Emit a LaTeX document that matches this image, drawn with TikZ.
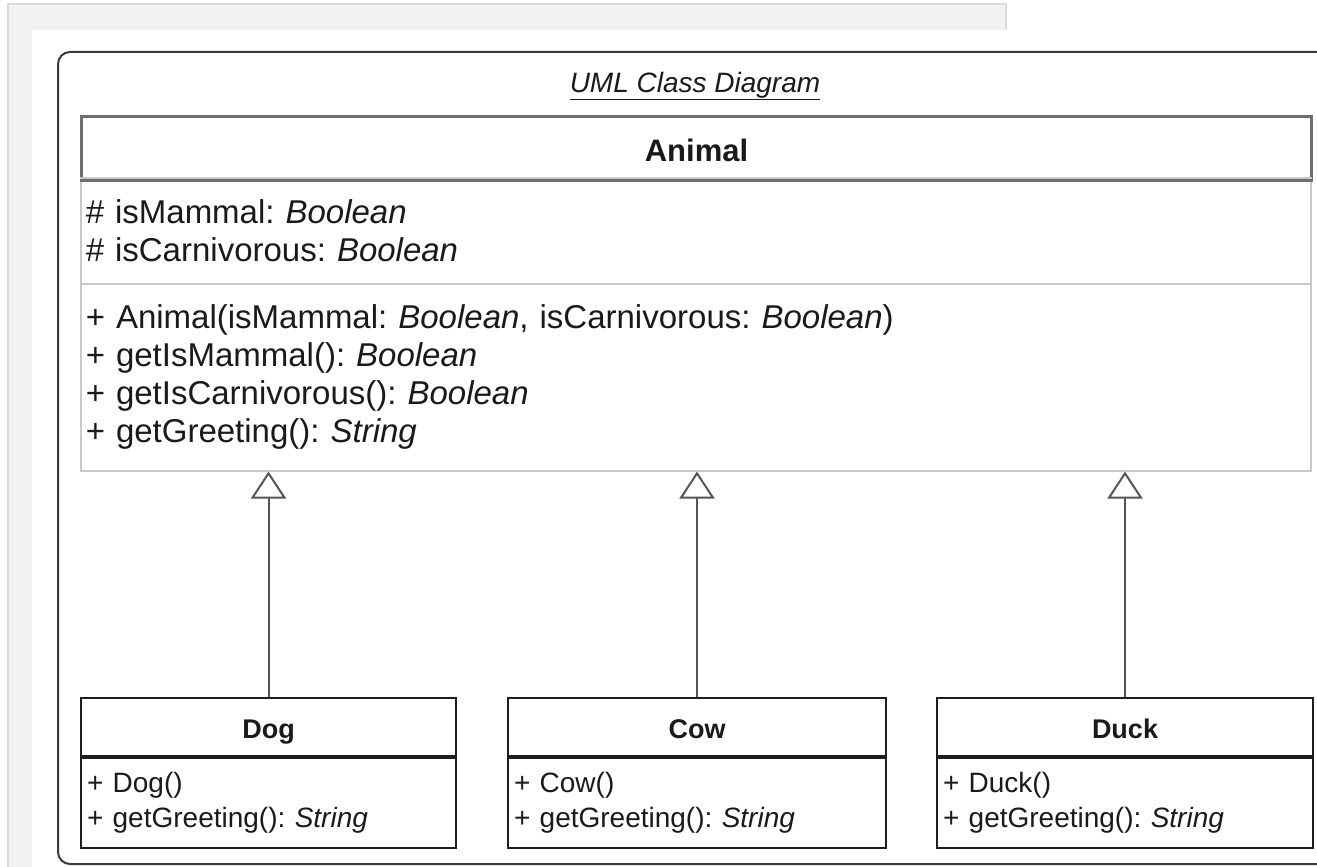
\documentclass[tikz,border=0pt]{standalone}
\usepackage{fontspec}
\setmainfont{Liberation Sans}
\usetikzlibrary{arrows.meta}
\frenchspacing
\definecolor{panelgrey}{HTML}{F2F2F2}
\definecolor{panelline}{HTML}{DADADA}
\definecolor{framecol}{HTML}{3A3A3A}
\definecolor{hdrline}{HTML}{6E6E6E}
\definecolor{bodyline}{HTML}{C8C8C8}
\definecolor{boxline}{HTML}{1E1E1E}
\definecolor{linkcol}{HTML}{555555}
\definecolor{textcol}{HTML}{1A1A1A}
\tikzset{
  animhdr/.style={draw=hdrline, line width=3pt, fill=white, inner sep=0pt,
    text height=28pt, text depth=0pt,
    font=\fontsize{31}{36}\selectfont\bfseries, text=textcol},
  animbody/.style={draw=bodyline, line width=1.5pt, fill=white, inner xsep=5pt, inner ysep=0pt,
    align=left, font=\fontsize{33}{38}\selectfont\frenchspacing, text=textcol},
  clshdr/.style={draw=boxline, line width=2pt, fill=white, inner sep=0pt,
    text height=23.5pt, text depth=0pt,
    minimum height=58pt, font=\fontsize{27}{32}\selectfont\bfseries, text=textcol},
  clsbody/.style={draw=boxline, line width=2pt, fill=white, inner xsep=6pt, inner ysep=0pt,
    minimum height=90pt, align=left, font=\fontsize{28}{35}\selectfont\frenchspacing, text=textcol},
  titletxt/.style={inner sep=0pt, font=\fontsize{28}{32}\selectfont, text=textcol},
  inherit/.style={draw=linkcol, line width=2pt,
    -{Triangle[open, length=27pt, width=35pt, line width=2pt, fill=white]}},
}
\begin{document}
\begin{tikzpicture}[x=1pt, y=-1pt]
\useasboundingbox (0,0) rectangle (1317,867);
\clip (0,0) rectangle (1317,867);
\fill[white] (0,0) rectangle (1317,867);
% page panel
\draw[panelline, fill=panelgrey, line width=1.5pt] (8,4) rectangle (1006,920);
\fill[white] (32,30) rectangle (1340,920);
% frame
\draw[framecol, line width=2pt, rounded corners=12pt] (58,52) rectangle (1345,864);
\node[titletxt] (title) at (695,86) {\underline{\textit{UML Class Diagram}}};
% Animal
\node[animhdr, minimum width=1230pt, minimum height=62pt, anchor=north west] (animh) at (80,115) {Animal};
\node[animbody, text width=1220pt, minimum height=106pt, anchor=north west] (anima) at (80,177)
  {\# isMammal: \textit{Boolean}\\\# isCarnivorous: \textit{Boolean}};
\node[animbody, text width=1220pt, minimum height=187pt, anchor=north west] (animm) at (80,283)
  {+ Animal(isMammal: \textit{Boolean}, isCarnivorous: \textit{Boolean})\\
   + getIsMammal(): \textit{Boolean}\\
   + getIsCarnivorous(): \textit{Boolean}\\
   + getGreeting(): \textit{String}};
\draw[hdrline, line width=3pt] (animh.south west) -- (animh.south east);
% Dog
\node[clshdr, minimum width=375pt, anchor=north west] (dogh) at (80,697) {Dog};
\node[clsbody, text width=363pt, anchor=north west] (dogb) at (dogh.south west)
  {+ Dog()\\+ getGreeting(): \textit{String}};
% Cow
\node[clshdr, minimum width=378pt, anchor=north west] (cowh) at (507,697) {Cow};
\node[clsbody, text width=366pt, anchor=north west] (cowb) at (cowh.south west)
  {+ Cow()\\+ getGreeting(): \textit{String}};
% Duck
\node[clshdr, minimum width=376pt, anchor=north west] (duckh) at (936,697) {Duck};
\node[clsbody, text width=364pt, anchor=north west] (duckb) at (duckh.south west)
  {+ Duck()\\+ getGreeting(): \textit{String}};
% generalisations
\draw[inherit] (dogh.north) -- (dogh.north |- animm.south);
\draw[inherit] (cowh.north) -- (cowh.north |- animm.south);
\draw[inherit] (duckh.north) -- (duckh.north |- animm.south);
\end{tikzpicture}
\end{document}
